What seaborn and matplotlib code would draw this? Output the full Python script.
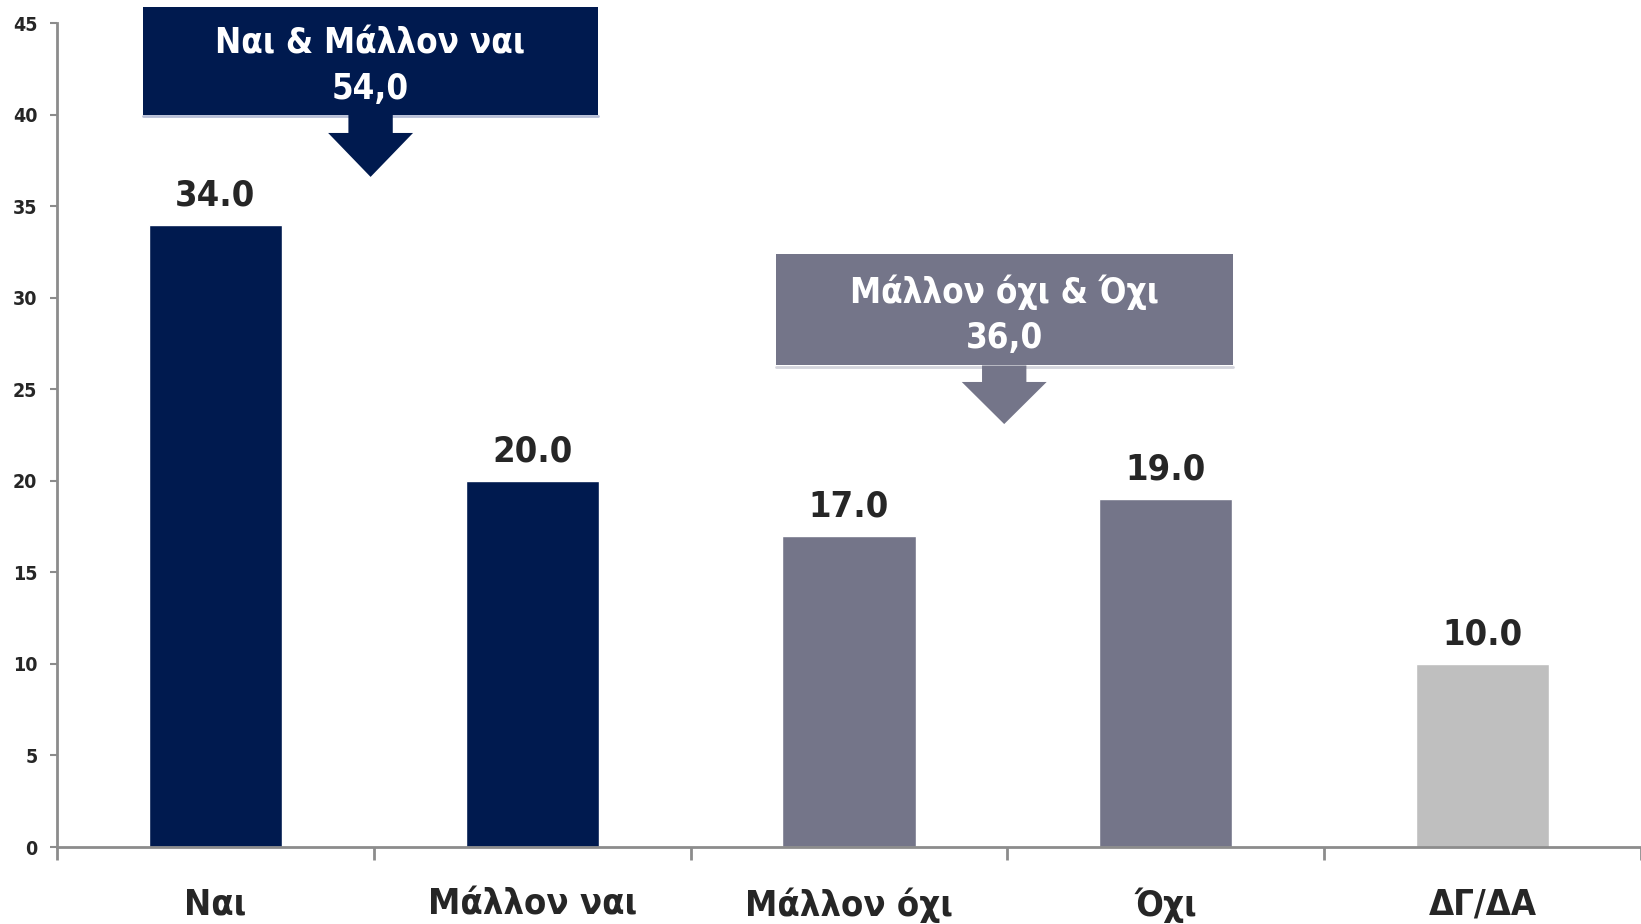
import matplotlib
matplotlib.use("Agg")
import matplotlib.pyplot as plt
import matplotlib.patches as mpatches
import seaborn as sns

# Data
categories = ['Ναι', 'Μάλλον ναι', 'Μάλλον όχι', 'Όχι', 'ΔΓ/ΔΑ']
values = [34.0, 20.0, 17.0, 19.0, 10.0]
bar_colors = ['#001A4F', '#001A4F', '#747589', '#747589', '#BFBFBF']

group_labels = ['Ναι & Μάλλον ναι', 'Μάλλον όχι & Όχι']
group_totals = [54.0, 36.0]
group_colors = ['#001A4F', '#747589']
group_shadow = ['#B7BED6', '#D3D4DC']

sns.set_theme(style='white')
plt.rcParams['font.family'] = ['DejaVu Sans']
plt.rcParams['font.stretch'] = 'condensed'
plt.rcParams['font.weight'] = 'bold'

fig = plt.figure(figsize=(16.41, 9.24), dpi=100)
ax = fig.add_axes([0.0347, 0.0833, 0.9653, 0.8917])

sns.barplot(x=categories, y=values, hue=categories, palette=bar_colors,
            width=0.42, legend=False, saturation=1, ax=ax)

ax.set_xlim(-0.5, 4.5)
ax.set_ylim(0, 45)
ax.set_yticks(range(0, 46, 5))
ax.set_xlabel('')
ax.set_ylabel('')

# Spines
for s in ['top', 'right']:
    ax.spines[s].set_visible(False)
for s in ['left', 'bottom']:
    ax.spines[s].set_color('#8C8C8C')
    ax.spines[s].set_linewidth(2)

# Ticks
ax.tick_params(axis='y', left=True, length=5, width=1.5, color='#8C8C8C',
               labelsize=14, labelcolor='#262626', pad=9)
ax.tick_params(axis='x', which='major', length=0, labelsize=26,
               labelcolor='#262626', pad=29)
ax.set_xticks([i - 0.5 for i in range(len(categories) + 1)], minor=True)
ax.tick_params(axis='x', which='minor', bottom=True, length=9, width=2,
               color='#8C8C8C')
for lbl in ax.get_xticklabels() + ax.get_yticklabels():
    lbl.set_fontweight('bold')
    lbl.set_fontstretch('condensed')

# Value labels
for i, v in enumerate(values):
    ax.annotate(f'{v:.1f}', (i, v), xytext=(0, 9), textcoords='offset points',
                ha='center', va='bottom', fontsize=26, fontweight='bold',
                fontstretch='condensed', color='#262626')

# Callout boxes with arrows
boxes = [
    dict(cx=0.49, x0=-0.229, x1=1.207, top=45.9, bottom=40.0, head=39.0, tip=36.6),
    dict(cx=2.49, x0=1.771, x1=3.213, top=32.4, bottom=26.3, head=25.4, tip=23.1),
]
stem_hw = 0.07
head_hw = 0.134
for b, lab, tot, col, sh in zip(boxes, group_labels, group_totals, group_colors, group_shadow):
    rect = mpatches.Rectangle((b['x0'], b['bottom']), b['x1'] - b['x0'],
                              b['top'] - b['bottom'], facecolor=col,
                              edgecolor='none', clip_on=False, zorder=3)
    ax.add_patch(rect)
    ax.plot([b['x0'], b['x1']], [b['bottom'] - 0.1, b['bottom'] - 0.1],
            color=sh, lw=2, clip_on=False, zorder=3)
    cx = b['cx']
    arrow = mpatches.Polygon([
        (cx - stem_hw, b['bottom']), (cx + stem_hw, b['bottom']),
        (cx + stem_hw, b['head']), (cx + head_hw, b['head']),
        (cx, b['tip']), (cx - head_hw, b['head']), (cx - stem_hw, b['head'])],
        closed=True, facecolor=col, edgecolor='none', clip_on=False, zorder=3)
    ax.add_patch(arrow)
    txt = lab + '\n' + f'{tot:.1f}'.replace('.', ',')
    ax.text((b['x0'] + b['x1']) / 2, (b['top'] + b['bottom']) / 2 - 0.3, txt,
            ha='center', va='center', color='white', fontsize=25,
            fontweight='bold', fontstretch='condensed', linespacing=1.4,
            zorder=4)

fig.savefig('out.png', dpi=100)
